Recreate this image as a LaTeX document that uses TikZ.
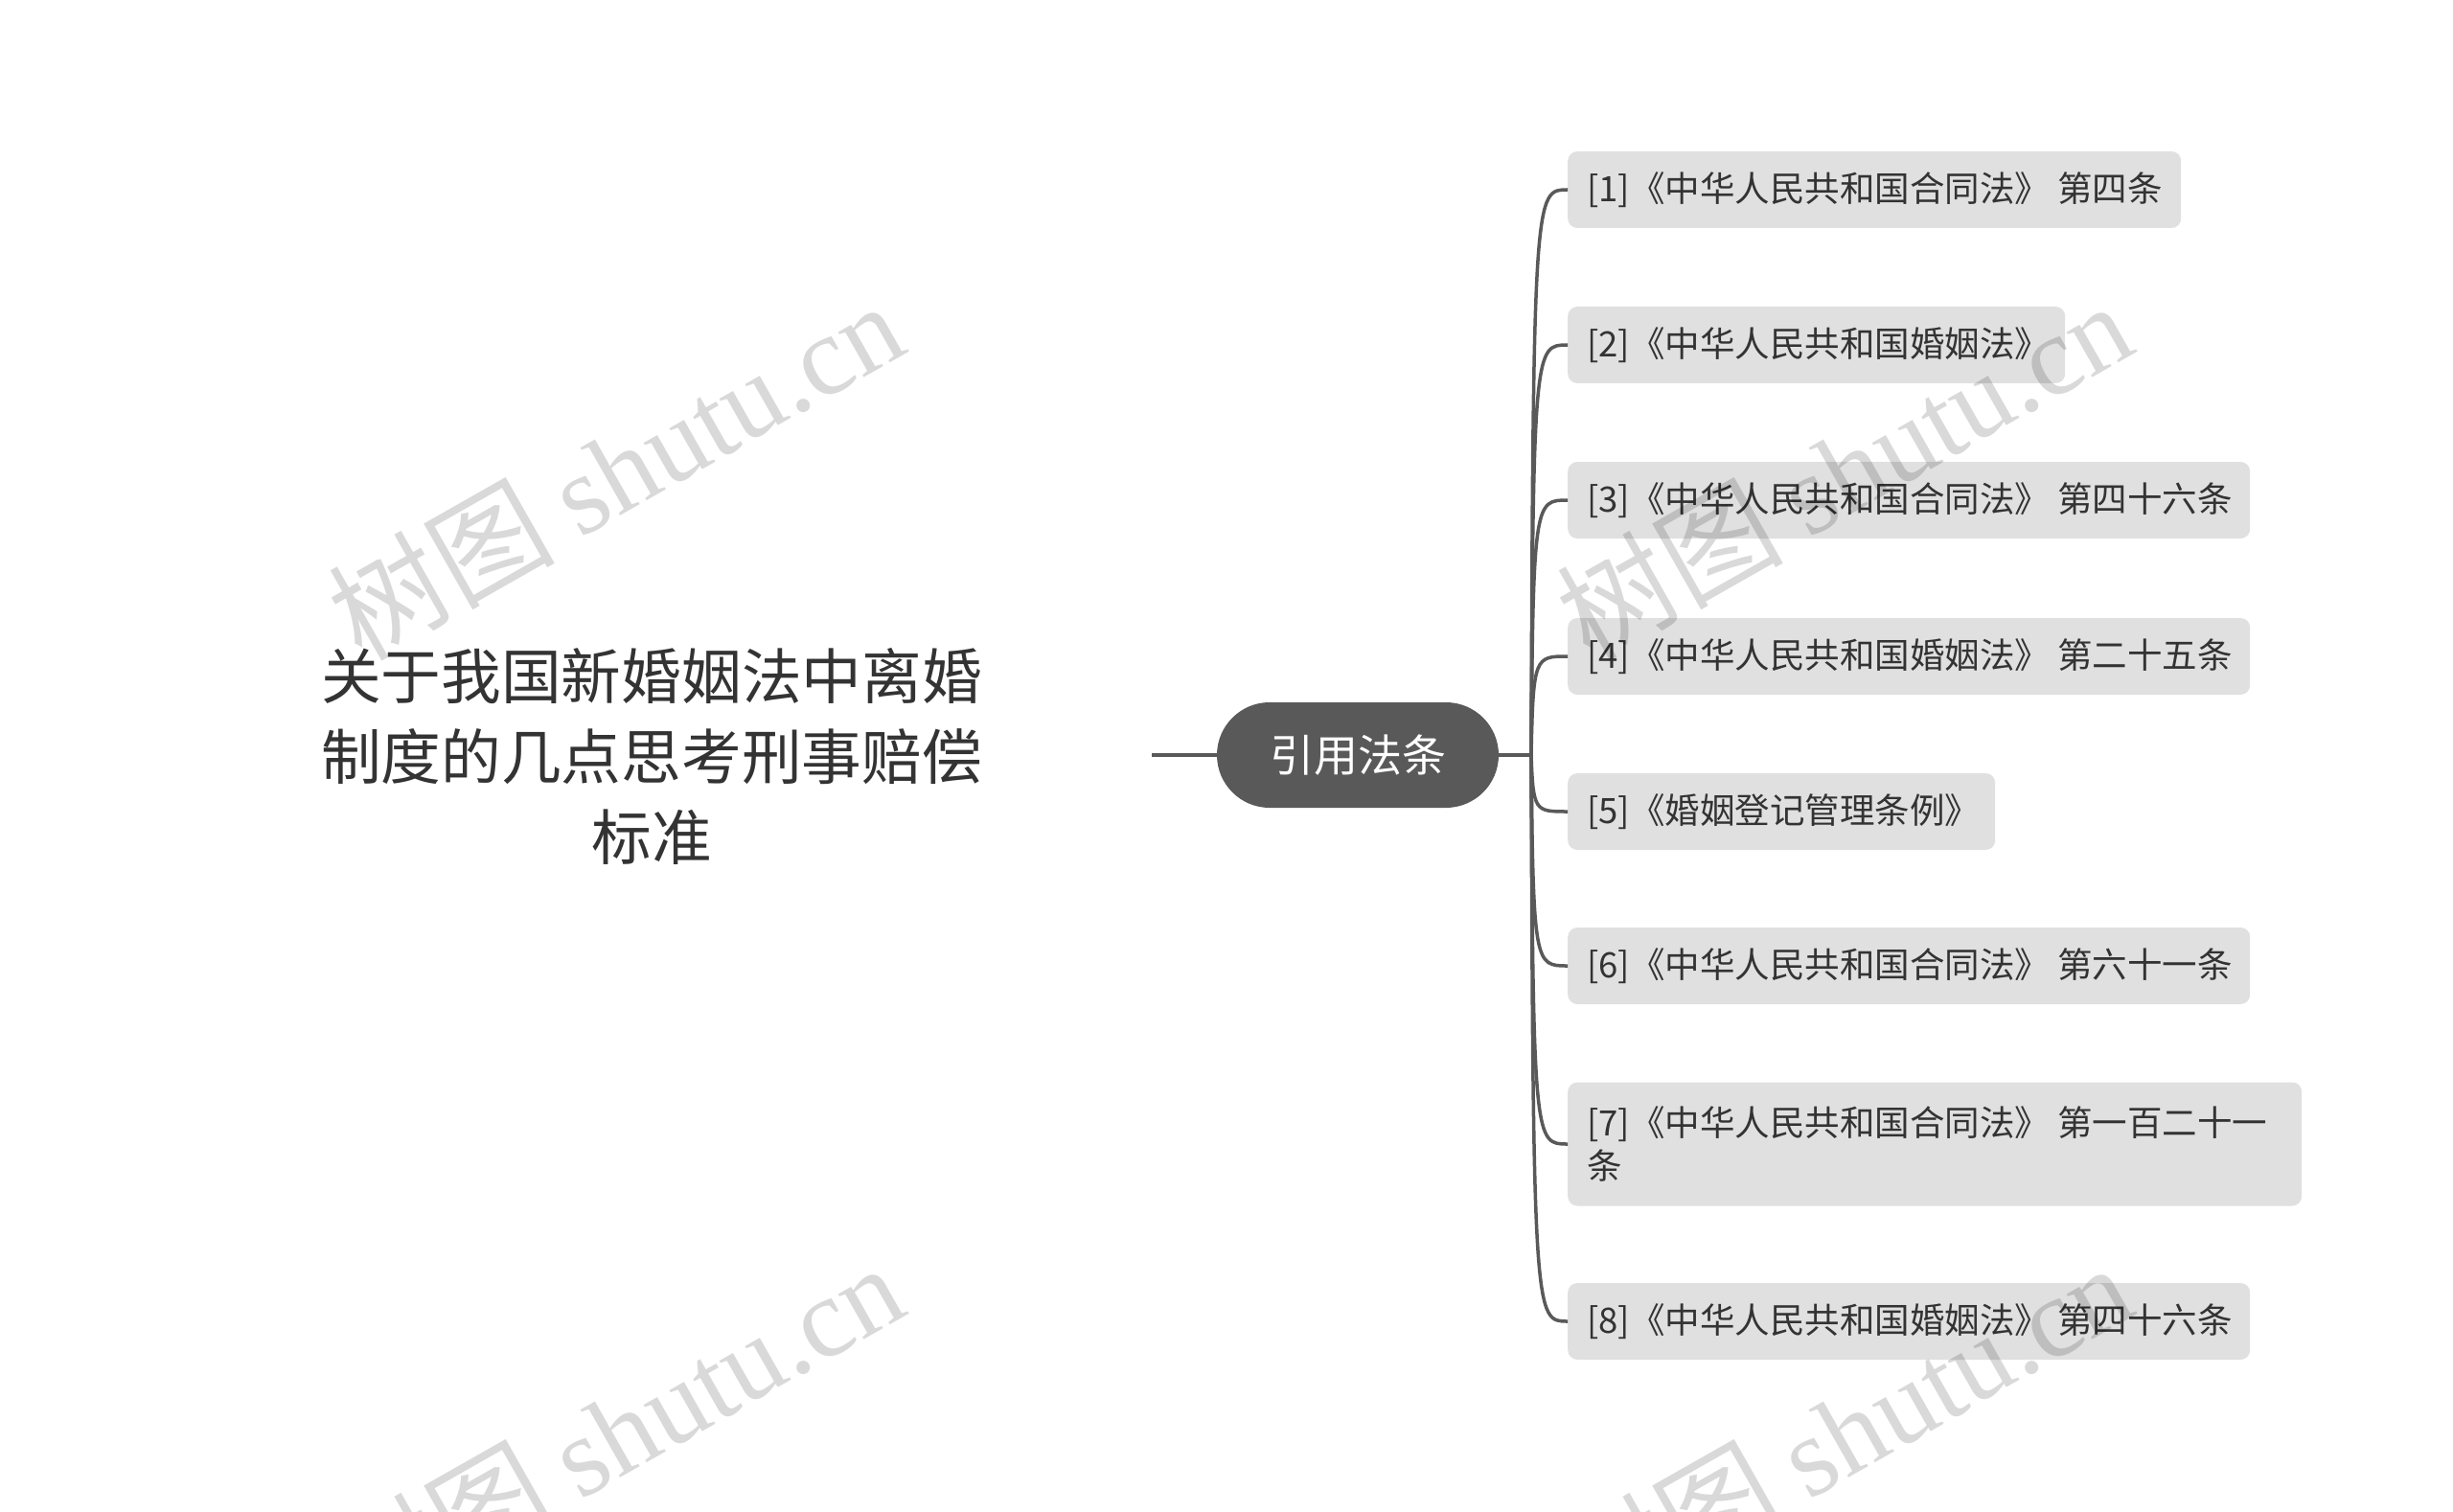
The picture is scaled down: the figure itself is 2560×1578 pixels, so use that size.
\documentclass[tikz,border=0pt]{standalone}
\usepackage{fontspec}
\setmainfont{Noto Sans CJK SC}
\newfontfamily\wmcjk{Noto Sans CJK SC}
\newfontfamily\wmlat{Liberation Serif}
\usetikzlibrary{calc}
\definecolor{linec}{HTML}{595959}
\definecolor{boxc}{HTML}{E0E0E0}
\definecolor{txtc}{HTML}{333333}
\begin{document}
\begin{tikzpicture}[x=1pt,y=-1pt,
  trunk/.style={draw=linec, line width=4pt},
  branch/.style={draw=linec, line width=3.5pt},
  leaf/.style={fill=boxc, rounded corners=10pt, anchor=west, inner xsep=20pt, inner ysep=0pt, minimum height=80pt, text=txtc, font=\fontsize{36.5}{45}\selectfont},
  pill/.style={fill=linec, rounded corners=55pt, minimum width=294pt, minimum height=110pt, inner sep=0pt, text=white, font=\fontsize{46}{50}\selectfont},
  titlenode/.style={align=center, text=txtc, font=\fontsize{62.7}{84}\selectfont, inner sep=0pt},
  wm/.style={rotate=29.6, text=black, text opacity=0.15, inner sep=0pt, font=\fontsize{118}{128}\selectfont}
]
\useasboundingbox[fill=white] (0,0) rectangle (2560,1578);

\node[titlenode] (root) at (680,789) {关于我国新婚姻法中离婚\\制度的几点思考刑事赔偿\\标准};

\coordinate (L) at (1202,788);
\node[pill] (c) at (1417,788) {引用法条};
\coordinate (J) at (1598,788);
\draw[trunk] (L) -- (c.west);
\draw[trunk] (c.east) -- (J);

\node[leaf] (n1) at (1636,198) {\makebox[600pt][l]{[1]《中华人民共和国合同法》 第四条}};
\node[leaf] (n2) at (1636,360) {\makebox[479pt][l]{[2]《中华人民共和国婚姻法》}};
\node[leaf] (n3) at (1636,522) {\makebox[672pt][l]{[3]《中华人民共和国合同法》 第四十六条}};
\node[leaf] (n4) at (1636,685) {\makebox[672pt][l]{[4]《中华人民共和国婚姻法》 第二十五条}};
\node[leaf] (n5) at (1636,847) {\makebox[406pt][l]{[5]《婚姻登记管理条例》}};
\node[leaf] (n6) at (1636,1008) {\makebox[672pt][l]{[6]《中华人民共和国合同法》 第六十一条}};
\node[leaf, minimum height=129pt] (n7) at (1636,1194) {\parbox{726pt}{\raggedright [7]《中华人民共和国合同法》 第一百二十一\\条}};
\node[leaf] (n8) at (1636,1379) {\makebox[672pt][l]{[8]《中华人民共和国婚姻法》 第四十六条}};

\foreach \n in {n1,n2,n3,n4,n5,n6,n7,n8}
  \draw[branch] (J) .. controls ($(J |- \n.west)+(2,0)$) and ($(J |- \n.west)+(4,0)$) .. (\n.west);

\node[wm] (w1) at (642,490) {{\wmcjk 树图} {\wmlat shutu.cn}};
\node[wm] (w2) at (1924,490) {{\wmcjk 树图} {\wmlat shutu.cn}};
\node[wm] (w3) at (642,1494) {{\wmcjk 树图} {\wmlat shutu.cn}};
\node[wm] (w4) at (1924,1494) {{\wmcjk 树图} {\wmlat shutu.cn}};
\end{tikzpicture}
\end{document}
